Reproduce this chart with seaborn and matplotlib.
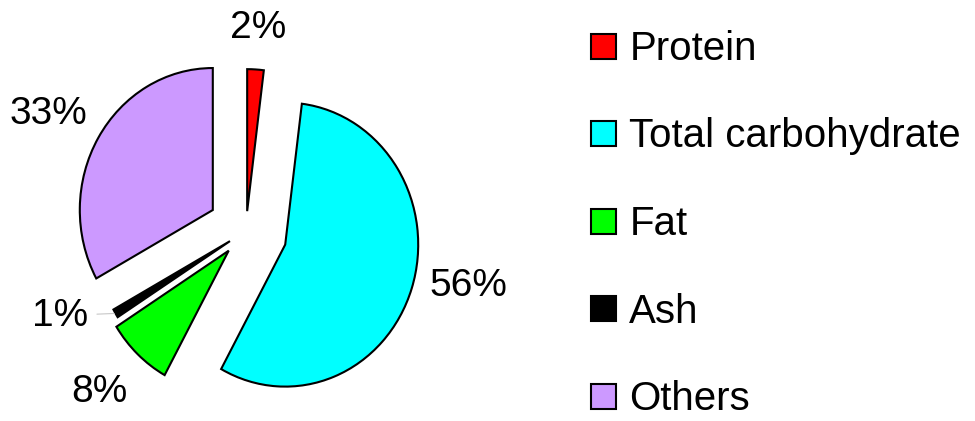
import numpy as np
import matplotlib
matplotlib.use("Agg")
import matplotlib.pyplot as plt
from matplotlib.lines import Line2D
import seaborn as sns

# composition data (percent)
components = ["Protein", "Total carbohydrate", "Fat", "Ash", "Others"]
shares = [2, 56, 8, 1, 33]
colors = ["#ff0000", "#00ffff", "#00ff00", "#000000", "#cc99ff"]
explode = [0.14, 0.31, 0.19, 0.14, 0.29]
label_dist = [1.43, 1.72, 1.58, 1.52, 1.70]
label_turn = [0, 5, -1, -7.5, 1.5]   # degrees, nudges labels off the mid-angle

sns.set_style("white")
plt.rcParams["font.family"] = ["Liberation Sans", "DejaVu Sans"]
plt.rcParams["text.color"] = "black"

W, H, dpi = 975, 421, 100
fig = plt.figure(figsize=(W / dpi, H / dpi), dpi=dpi)
ax = fig.add_axes([0, 0, 1, 1])

# pie in the reference is slightly taller than wide
rx, ry = 133.0, 142.0
cx, cy = 246.0, H - 231.0

wedges, _ = ax.pie(shares, colors=colors, explode=explode, startangle=90,
                   counterclock=False,
                   wedgeprops=dict(edgecolor="black", linewidth=1.5))

for w, d, t, e, v in zip(wedges, label_dist, label_turn, explode, shares):
    mid = np.deg2rad((w.theta1 + w.theta2) / 2)
    ang = mid + np.deg2rad(t)
    x, y = d * np.cos(ang), d * np.sin(ang)
    if v == 1:
        # tiny slice gets a short leader line
        tip = ((1 + e) * np.cos(mid), (1 + e) * np.sin(mid))
        ax.annotate(f"{v}%", xy=tip, xytext=(x, y), ha="center", va="center",
                    fontsize=28,
                    arrowprops=dict(arrowstyle="-", color="#c8c8c8", lw=0.8,
                                    shrinkA=4, shrinkB=1))
    else:
        ax.text(x, y, f"{v}%", ha="center", va="center", fontsize=28)

ax.set_aspect("auto")
ax.set_xlim(-cx / rx, (W - cx) / rx)
ax.set_ylim(-cy / ry, (H - cy) / ry)
ax.axis("off")

handles = [Line2D([], [], marker="s", linestyle="none", markersize=18,
                  markerfacecolor=c, markeredgecolor="black", markeredgewidth=1.5)
           for c in colors]
fig.legend(handles, components, loc="center left",
           bbox_to_anchor=(589 / W, 0.468), frameon=False, fontsize=29,
           labelcolor="black", labelspacing=1.23, handlelength=0.7,
           handletextpad=0.3, borderpad=0, borderaxespad=0)

fig.savefig("out.png", dpi=dpi)
